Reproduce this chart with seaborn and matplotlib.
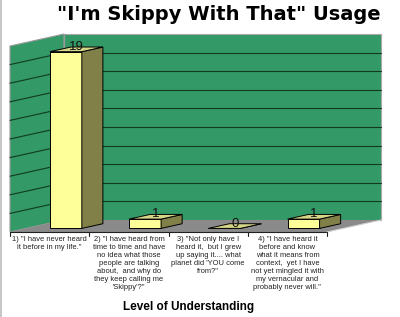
import matplotlib
matplotlib.use("Agg")
import matplotlib.pyplot as plt
from matplotlib.patches import Polygon
import seaborn as sns
import pandas as pd

# ---- data ----
categories = ["1", "2", "3", "4"]
values = [19, 1, 0, 1]
tick_labels = [
    '1) "I have never heard\nit before in my life."',
    '2) "I have heard from\ntime to time and have\nno idea what those\npeople are talking\nabout,  and why do\nthey keep calling me\n\'Skippy\'?"',
    '3) "Not only have I\nheard it,  but I grew\nup saying it.... what\nplanet did \'YOU come\nfrom?"',
    '4) "I have heard it\nbefore and know\nwhat it means from\ncontext,  yet I have\nnot yet mingled it with\nmy vernacular and\nprobably never will."',
]
title = '"I\'m Skippy With That" Usage'
xlabel = "Level of Understanding"
y_max = 20
grid_step = 2

sns.set_theme(style="white")
plt.rcParams["font.family"] = ["Liberation Sans", "DejaVu Sans"]

W, H = 400, 317
fig = plt.figure(figsize=(W / 100, H / 100), dpi=100)
fig.patch.set_facecolor("white")
ax = fig.add_axes([0, 0, 1, 1])

# pixel mapping of the "front" plane
CW = 79.25          # px per category
X0 = 10             # px of front-left corner
Y0 = 232            # px (from top) of front floor line
UP = 9.3            # px per unit
DX = 54 / CW        # depth offset in category units
DY = 12 / UP        # depth offset in value units
D0, D1 = 0.30, 0.69  # bar depth range (fraction)
BW = 32 / CW        # bar width

wall_green = "#339966"
floor_gray = "#8a8a8a"
grid_col = "#123a22"

xl = -0.5
xr = len(categories) - 0.5

# walls and floor
ax.add_patch(Polygon([(xl, 0), (xl, y_max), (xl + DX, y_max + DY), (xl + DX, DY)],
                     closed=True, fc=wall_green, ec="#9a9a9a", lw=0.8, zorder=0))
ax.add_patch(Polygon([(xl + DX, DY), (xl + DX, y_max + DY), (xr + DX, y_max + DY), (xr + DX, DY)],
                     closed=True, fc=wall_green, ec="#a8a8a8", lw=0.8, zorder=0))
ax.add_patch(Polygon([(xl, 0), (xr, 0), (xr + DX, DY), (xl + DX, DY)],
                     closed=True, fc=floor_gray, ec="none", lw=0, zorder=0.5))
for g in range(grid_step, y_max, grid_step):
    ax.plot([xl, xl + DX], [g, g + DY], color=grid_col, lw=0.8, zorder=1)
    ax.plot([xl + DX, xr + DX], [g + DY, g + DY], color=grid_col, lw=0.8, zorder=1)
ax.plot([xl + DX, xl + DX], [DY, y_max + DY], color="#9a9a9a", lw=0.8, zorder=1)

# front axis line and ticks
ax.plot([xl, xr], [0, 0], color="#202020", lw=0.8, zorder=2)
ax.plot([xr, xr + DX], [0, DY], color="#d0d0d0", lw=0.8, zorder=2)
for i in range(len(categories) + 1):
    ax.plot([xl + i, xl + i], [0, -0.4], color="#202020", lw=0.8, zorder=2)

df = pd.DataFrame({"level": categories, "count": values})
sns.barplot(data=df, x="level", y="count", order=categories, width=BW,
            color="#ffff99", saturation=1, edgecolor="black", linewidth=0.7,
            errorbar=None, ax=ax, zorder=3)

ddx, ddy = (D1 - D0) * DX, (D1 - D0) * DY
ox, oy = D0 * DX, D0 * DY
for p in ax.patches[-len(categories):]:
    x0 = p.get_x() + ox
    x1 = x0 + p.get_width()
    b = p.get_y() + oy
    h = b + p.get_height()
    p.set_x(x0)
    p.set_y(b)
    # side face
    ax.add_patch(Polygon([(x1, b), (x1, h), (x1 + ddx, h + ddy), (x1 + ddx, b + ddy)],
                         closed=True, fc="#808048", ec="black", lw=0.7, zorder=3))
    # top face
    ax.add_patch(Polygon([(x0, h), (x1, h), (x1 + ddx, h + ddy), (x0 + ddx, h + ddy)],
                         closed=True, fc="#d6d688", ec="black", lw=0.7, zorder=3.1))
    ax.text((x0 + x1) / 2 + ddx / 2, h + ddy / 2 + 0.25, f"{p.get_height():.0f}",
            ha="center", va="center", fontsize=9.5, color="#111111", zorder=4)

# category labels
for i, lab in enumerate(tick_labels):
    ax.text(i, (Y0 - 236) / UP, lab, ha="center", va="top", fontsize=5.4,
            linespacing=1.2, color="#222222", zorder=4)

ax.set_xlim((0 - X0) / CW - 0.5, (W - X0) / CW - 0.5)
ax.set_ylim((Y0 - H) / UP, Y0 / UP)
ax.axis("off")

fig.text(219 / W, 1 - 15 / H, title, ha="center", va="center", fontsize=14,
         fontweight="bold", color="black", family=["DejaVu Sans"])
fig.text(189 / W, 1 - 307 / H, xlabel, ha="center", va="center", fontsize=8.5,
         fontweight="bold", color="black")
fig.add_artist(plt.Line2D([0.002, 0.002], [0, 1], color="#c8c8c8", lw=1.5))

fig.savefig("out.png", dpi=100, facecolor="white")
